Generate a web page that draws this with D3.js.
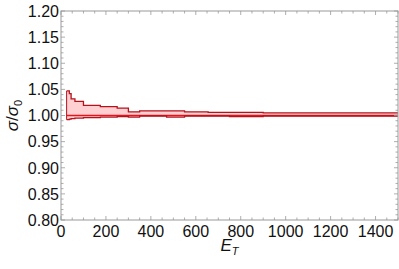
<!DOCTYPE html>
<html>
<head>
<meta charset="utf-8">
<script src="https://cdn.jsdelivr.net/npm/d3@7"></script>
<style>
  body { margin: 0; background: #fff; }
  text { font-family: "Liberation Sans", Arial, sans-serif; }
</style>
</head>
<body>
<script>
// bin start energies (E_T) for the step curves, last entry closes the final bin
const binEdges = [25, 37, 45, 62, 100, 175, 250, 300, 350, 400, 470, 550, 655, 750, 900, 1500]
// upper and lower envelope of sigma/sigma0 per bin
const upperVals = [1.047, 1.042, 1.032, 1.027, 1.0195, 1.017, 1.014, 1.007, 1.009, 1.009, 1.009, 1.007, 1.006, 1.006, 1.005]
const lowerVals = [0.992, 0.993, 0.994, 0.995, 0.996, 0.997, 0.998, 0.997, 0.999, 0.999, 0.997, 0.999, 0.999, 0.998, 0.999]
// reference line
const centerVal = 1.0

const xTicks = [0, 200, 400, 600, 800, 1000, 1200, 1400]
const yTicks = [0.80, 0.85, 0.90, 0.95, 1.00, 1.05, 1.10, 1.15, 1.20]

const width = 399
const height = 269
const margin = { top: 11, right: 1, bottom: 49, left: 61 }
const innerWidth = width - margin.left - margin.right
const innerHeight = height - margin.top - margin.bottom

const svg = d3.select('body').append('svg')
  .attr('width', width)
  .attr('height', height)

const g = svg.append('g')
  .attr('transform', `translate(${margin.left},${margin.top})`)

const xScale = d3.scaleLinear().domain([0, 1500]).range([0, innerWidth])
const yScale = d3.scaleLinear().domain([0.8, 1.2]).range([innerHeight, 0])

// build step data: each bin contributes its start and end point
const steps = []
for (let i = 0; i < upperVals.length; i++) {
  steps.push({ x: binEdges[i], up: upperVals[i], lo: lowerVals[i] })
  steps.push({ x: binEdges[i + 1], up: upperVals[i], lo: lowerVals[i] })
}

const area = d3.area()
  .x(d => xScale(d.x))
  .y0(d => yScale(d.lo))
  .y1(d => yScale(d.up))

const upperLine = d3.line().x(d => xScale(d.x)).y(d => yScale(d.up))
const lowerLine = d3.line().x(d => xScale(d.x)).y(d => yScale(d.lo))

g.append('path')
  .datum(steps)
  .attr('d', area)
  .attr('fill', '#ffcfd2')

//center line
g.append('line')
  .attr('x1', xScale(binEdges[0]))
  .attr('x2', xScale(1500))
  .attr('y1', yScale(centerVal))
  .attr('y2', yScale(centerVal))
  .attr('stroke', '#e3141c')
  .attr('stroke-width', 1.6)

// envelope outlines
g.append('path')
  .datum(steps)
  .attr('d', upperLine)
  .attr('fill', 'none')
  .attr('stroke', '#b5121b')
  .attr('stroke-width', 1.3)
g.append('path')
  .datum(steps)
  .attr('d', lowerLine)
  .attr('fill', 'none')
  .attr('stroke', '#b5121b')
  .attr('stroke-width', 1.3)
// left edge of the band
g.append('line')
  .attr('x1', xScale(binEdges[0])).attr('x2', xScale(binEdges[0]))
  .attr('y1', yScale(upperVals[0])).attr('y2', yScale(lowerVals[0]))
  .attr('stroke', '#b5121b').attr('stroke-width', 1)

// frame
g.append('rect')
  .attr('width', innerWidth)
  .attr('height', innerHeight)
  .attr('fill', 'none')
  .attr('stroke', '#999')
  .attr('stroke-width', 1)

// ticks on all sides, pointing in
const tickColor = '#999'
const xMinor = d3.range(0, 1501, 50)
const yMinor = d3.range(80, 121, 1).map(v => v / 100)

xMinor.forEach(v => {
  const major = v % 200 === 0
  const len = major ? 4 : 2.5
  const x = xScale(v)
  g.append('line').attr('x1', x).attr('x2', x).attr('y1', innerHeight).attr('y2', innerHeight - len)
    .attr('stroke', tickColor).attr('stroke-width', 0.8)
  g.append('line').attr('x1', x).attr('x2', x).attr('y1', 0).attr('y2', len)
    .attr('stroke', tickColor).attr('stroke-width', 0.8)
})
yMinor.forEach((v, i) => {
  const major = i % 5 === 0
  const len = major ? 4 : 2.5
  const y = yScale(v)
  g.append('line').attr('x1', 0).attr('x2', len).attr('y1', y).attr('y2', y)
    .attr('stroke', tickColor).attr('stroke-width', 0.8)
  g.append('line').attr('x1', innerWidth).attr('x2', innerWidth - len).attr('y1', y).attr('y2', y)
    .attr('stroke', tickColor).attr('stroke-width', 0.8)
})

// tick labels
g.selectAll('.xlab')
  .data(xTicks)
  .enter()
  .append('text')
    .attr('x', d => xScale(d))
    .attr('y', innerHeight + 17)
    .attr('text-anchor', 'middle')
    .attr('font-size', 16)
    .attr('fill', '#111')
    .text(d => d)

g.selectAll('.ylab')
  .data(yTicks)
  .enter()
  .append('text')
    .attr('x', -2)
    .attr('y', d => yScale(d) + 5.8)
    .attr('text-anchor', 'end')
    .attr('font-size', 16)
    .attr('fill', '#111')
    .text(d => d3.format('.2f')(d))

// axis titles
const xt = svg.append('text')
  .attr('x', margin.left + innerWidth / 2)
  .attr('y', 251)
  .attr('text-anchor', 'middle')
  .attr('font-size', 17)
  .attr('fill', '#111')
xt.append('tspan').attr('font-style', 'italic').text('E')
xt.append('tspan').attr('font-style', 'italic').attr('font-size', 11).attr('dy', 4).text('T')

const yt = svg.append('text')
  .attr('transform', `translate(18,${margin.top + yScale(1.0)}) rotate(-90)`)
  .attr('text-anchor', 'middle')
  .attr('font-size', 17)
  .attr('fill', '#111')
yt.append('tspan').attr('font-style', 'italic').text('σ')
yt.append('tspan').text('/')
yt.append('tspan').attr('font-style', 'italic').text('σ')
yt.append('tspan').attr('font-size', 11).attr('dy', 4).text('0')
</script>
</body>
</html>
